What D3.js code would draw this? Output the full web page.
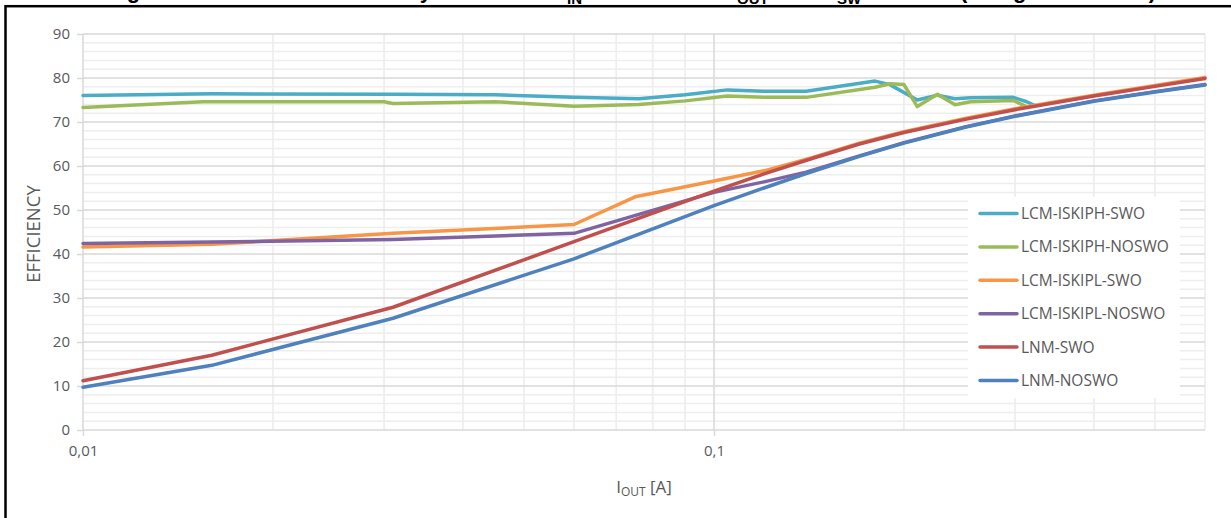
<!DOCTYPE html>
<html>
<head>
<meta charset="utf-8">
<script src="https://cdn.jsdelivr.net/npm/d3@7"></script>
<style>
  html, body { margin: 0; padding: 0; background: #fff; overflow: hidden; }
  svg { display: block; }
</style>
</head>
<body>
<svg id="chart" width="1231" height="518"></svg>
<script>
// ---------------- data ----------------
const seriesNames = ["LCM-ISKIPH-SWO", "LCM-ISKIPH-NOSWO", "LCM-ISKIPL-SWO", "LCM-ISKIPL-NOSWO", "LNM-SWO", "LNM-NOSWO"];
const seriesColors = ["#4bacc6", "#9bbb59", "#f79646", "#8064a2", "#c0504d", "#4f81bd"];

const iskiphSwoI = [0.01, 0.016, 0.031, 0.045, 0.06, 0.076, 0.09, 0.105, 0.12, 0.14, 0.18, 0.19, 0.21, 0.226, 0.241, 0.255, 0.298, 0.313, 0.322];
const iskiphSwoE = [76.0, 76.4, 76.3, 76.2, 75.6, 75.3, 76.2, 77.3, 77.0, 77.0, 79.3, 78.5, 75.0, 76.1, 75.3, 75.5, 75.6, 74.6, 73.8];

const iskiphNoswoI = [0.01, 0.0155, 0.03, 0.031, 0.045, 0.06, 0.076, 0.09, 0.105, 0.12, 0.14, 0.18, 0.19, 0.2, 0.21, 0.226, 0.241, 0.255, 0.298, 0.315];
const iskiphNoswoE = [73.3, 74.6, 74.6, 74.2, 74.6, 73.6, 74.0, 74.8, 75.9, 75.6, 75.6, 77.9, 78.7, 78.5, 73.5, 76.3, 73.9, 74.6, 74.9, 73.3];

const iskiplSwoI = [0.01, 0.016, 0.031, 0.06, 0.075, 0.1, 0.12, 0.143, 0.17, 0.2, 0.25, 0.3, 0.4, 0.5, 0.6];
const iskiplSwoE = [41.6, 42.2, 44.7, 46.7, 53.0, 56.6, 58.9, 61.9, 65.2, 67.8, 70.8, 73.0, 76.1, 78.3, 80.1];

const iskiplNoswoI = [0.01, 0.016, 0.031, 0.06, 0.1, 0.12, 0.14, 0.17, 0.2, 0.25, 0.3, 0.4, 0.5, 0.6];
const iskiplNoswoE = [42.4, 42.7, 43.3, 44.7, 54.0, 56.4, 58.6, 62.3, 65.3, 68.9, 71.4, 74.8, 76.9, 78.5];

const lnmSwoI = [0.01, 0.016, 0.031, 0.06, 0.1, 0.12, 0.143, 0.17, 0.2, 0.25, 0.3, 0.4, 0.5, 0.6];
const lnmSwoE = [11.2, 17.0, 27.9, 42.8, 54.3, 58.2, 61.7, 65.0, 67.6, 70.6, 72.8, 75.9, 78.1, 79.9];

const lnmNoswoI = [0.01, 0.016, 0.031, 0.06, 0.1, 0.12, 0.14, 0.17, 0.2, 0.25, 0.3, 0.4, 0.5, 0.6];
const lnmNoswoE = [9.7, 14.7, 25.4, 38.9, 51.0, 55.0, 58.3, 62.2, 65.2, 68.8, 71.3, 74.7, 76.8, 78.4];

const xTickValues = [0.01, 0.1];
const xTickLabels = ["0,01", "0,1"];
const xMinorValues = [0.02, 0.03, 0.04, 0.05, 0.06, 0.07, 0.08, 0.09, 0.2, 0.3, 0.4, 0.5, 0.6];
const yTickValues = [0, 10, 20, 30, 40, 50, 60, 70, 80, 90];
const yMinorValues = d3.range(2, 90, 2).filter(v => v % 10 !== 0);

const xDomain = [0.01, 0.6];
const yDomain = [0, 90];

// ---------------- layout ----------------
const svg = d3.select("#chart");
const L = 83, R = 1205, T = 34, B = 430;
const x = d3.scaleLog().domain(xDomain).range([L, R]);
const y = d3.scaleLinear().domain(yDomain).range([B, T]);
const FONT = "'Open Sans', sans-serif";
const TXT = "#595959";

// title (only its bottom sliver is visible above the frame)
const title = svg.append("text")
  .attr("font-family", "'Liberation Sans', Arial, sans-serif")
  .attr("font-weight", "bold")
  .attr("font-size", 22)
  .attr("fill", "#000");
const titleParts = [
  {t: "Figure 14. Efficiency", x: 95, len: 337},
  {t: " vs Load at V", x: 432},
  {t: "IN", x: 567, sub: true},
  {t: " = 3.6 V  V", x: 589},
  {t: "OUT", x: 737, sub: true},
  {t: "  f", x: 781},
  {t: "SW", x: 837, sub: true},
  {t: " = 2 MHz", x: 861},
  {t: "(log scale)", x: 960, len: 196}
];
titleParts.forEach(p => {
  const ts = title.append("tspan").attr("x", p.x).text(p.t);
  if (p.sub) ts.attr("font-size", 15).attr("y", 3.5);
  else ts.attr("y", -2.5);
  if (p.len) ts.attr("textLength", p.len).attr("lengthAdjust", "spacing");
});

// frame
svg.append("rect")
  .attr("x", 5.5).attr("y", 6.2)
  .attr("width", 1400).attr("height", 700)
  .attr("fill", "#fff")
  .attr("stroke", "#000").attr("stroke-width", 2.5);

// grid: minor
const grid = svg.append("g");
grid.selectAll("line.ymin").data(yMinorValues).join("line")
  .attr("x1", L).attr("x2", R)
  .attr("y1", d => y(d)).attr("y2", d => y(d))
  .attr("stroke", "#eeeeee").attr("stroke-width", 1.5);
grid.selectAll("line.xmin").data(xMinorValues).join("line")
  .attr("x1", d => x(d)).attr("x2", d => x(d))
  .attr("y1", T).attr("y2", B)
  .attr("stroke", "#eeeeee").attr("stroke-width", 1.7);
// grid: major
grid.selectAll("line.ymaj").data(yTickValues).join("line")
  .attr("x1", L).attr("x2", R)
  .attr("y1", d => y(d)).attr("y2", d => y(d))
  .attr("stroke", "#d9d9d9").attr("stroke-width", 1.5);
grid.selectAll("line.xmaj").data(xTickValues).join("line")
  .attr("x1", d => x(d)).attr("x2", d => x(d))
  .attr("y1", T).attr("y2", B)
  .attr("stroke", "#d9d9d9").attr("stroke-width", 1.5);

// axes
const yAxis = d3.axisLeft(y).tickValues(yTickValues).tickSize(6).tickPadding(7).tickFormat(d3.format("d"));
const gy = svg.append("g").attr("transform", `translate(${L},0)`).call(yAxis);
gy.select(".domain").remove();
gy.selectAll(".tick line").attr("stroke", "#d9d9d9").attr("stroke-width", 1.5);
gy.selectAll(".tick text").attr("font-family", FONT).attr("font-size", 15).attr("fill", TXT);

const xAxis = d3.axisBottom(x).tickValues(xTickValues).tickSize(6).tickPadding(9)
  .tickFormat((d, i) => xTickLabels[i]);
const gx = svg.append("g").attr("transform", `translate(0,${B})`).call(xAxis);
gx.select(".domain").remove();
gx.selectAll(".tick line").attr("stroke", "#d9d9d9").attr("stroke-width", 1.5);
gx.selectAll(".tick text").attr("font-family", FONT).attr("font-size", 15).attr("fill", TXT);

// axis titles
const xt = svg.append("text")
  .attr("x", 644).attr("y", 493)
  .attr("text-anchor", "middle")
  .attr("font-family", FONT).attr("font-size", 17).attr("fill", TXT);
xt.append("tspan").text("I");
xt.append("tspan").attr("font-size", 12).attr("dy", 3).text("OUT");
xt.append("tspan").attr("dy", -3).text(" [A]");

svg.append("text")
  .attr("transform", `translate(40,${(T + B) / 2 + 2}) rotate(-90)`)
  .attr("text-anchor", "middle")
  .attr("font-family", FONT).attr("font-size", 18.5).attr("fill", TXT)
  .text("EFFICIENCY");

// series
const seriesI = [iskiphSwoI, iskiphNoswoI, iskiplSwoI, iskiplNoswoI, lnmSwoI, lnmNoswoI];
const seriesE = [iskiphSwoE, iskiphNoswoE, iskiplSwoE, iskiplNoswoE, lnmSwoE, lnmNoswoE];
const line = d3.line().x(d => x(d[0])).y(d => y(d[1]));
const gl = svg.append("g");
seriesNames.forEach((name, k) => {
  const pts = seriesI[k].map((v, i) => [v, seriesE[k][i]]);
  gl.append("path")
    .attr("d", line(pts))
    .attr("fill", "none")
    .attr("stroke", seriesColors[k])
    .attr("stroke-width", 3.5)
    .attr("stroke-linejoin", "round")
    .attr("stroke-linecap", "round");
});

// legend
const lg = svg.append("g");
lg.append("rect").attr("x", 968).attr("y", 197).attr("width", 212).attr("height", 201).attr("fill", "#fff");
seriesNames.forEach((name, k) => {
  const cy = 213.5 + k * 33.4;
  lg.append("line")
    .attr("x1", 980).attr("x2", 1017).attr("y1", cy).attr("y2", cy)
    .attr("stroke", seriesColors[k]).attr("stroke-width", 3.5).attr("stroke-linecap", "round");
  lg.append("text")
    .attr("x", 1021).attr("y", cy + 5.5)
    .attr("font-family", FONT).attr("font-size", 15.5).attr("fill", TXT)
    .text(name);
});
</script>
</body>
</html>
